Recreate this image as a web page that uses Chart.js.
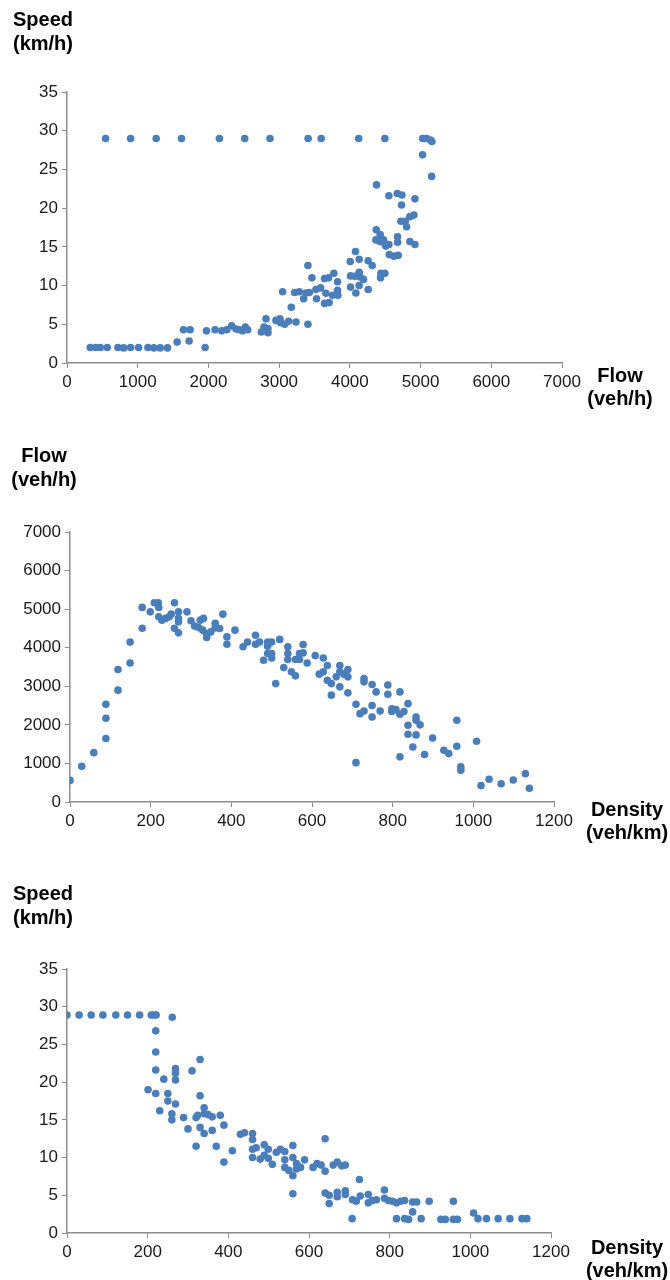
<!DOCTYPE html>
<html>
<head>
<meta charset="utf-8">
<script src="https://cdn.jsdelivr.net/npm/chart.js@4.4.1/dist/chart.umd.min.js"></script>
<style>
  body { margin: 0; background: #fff; }
  .wrap { position: absolute; left: 0; width: 670px; }
</style>
</head>
<body>
<div class="wrap" style="top:0px"><canvas id="speedFlow" width="670" height="437"></canvas></div>
<div class="wrap" style="top:437px"><canvas id="flowDensity" width="670" height="437"></canvas></div>
<div class="wrap" style="top:874px"><canvas id="speedDensity" width="670" height="406"></canvas></div>
<script>
// chart 1: speed vs flow
const sfFlow = [546, 899, 1261, 1619, 2155, 2513, 2871, 3410, 3595, 4125, 4495, 5030, 5085, 5140, 5160, 5028, 5156,
  329, 405, 471, 569, 720, 800, 899, 1012, 1144, 1228, 1318, 1421, 1953, 1558, 1647, 1741, 1727, 1972, 2094, 2188, 2259,
  2329, 2391, 2438, 2485, 2522, 2555, 2748, 2786, 2814, 2842, 2842, 2955, 3012, 3021, 3078, 3134, 3172, 3238, 3407,
  3049, 3219, 3285, 3346, 3379, 3407, 3426, 3464, 3520, 3529, 3586, 3642, 3642, 3661, 3699, 3708, 3755, 3774, 3826, 3830, 3826,
  4005, 4080, 4132, 4010, 4071, 4132, 4142, 4193, 4132, 4085, 4010, 4259, 4316, 4259, 4377, 4373, 4429, 4368, 4425, 4476,
  4495, 4552, 4509, 4439, 4495, 4434, 4552, 4670, 4736, 4731, 4557, 4623, 4684, 4675, 4675, 4722, 4783, 4849, 4906, 4802,
  4920, 4849, 4920];
const sfSpeed = [29, 29, 29, 29, 29, 29, 29, 29, 29, 29, 29, 29, 29, 28.8, 28.6, 26.9, 24.1,
  2, 2, 2, 2, 2, 1.95, 2, 2, 2, 1.95, 1.95, 1.95, 2, 2.7, 4.3, 4.3, 2.85, 4.15, 4.3, 4.15, 4.3,
  4.8, 4.4, 4.3, 4.15, 4.65, 4.3, 4.0, 4.65, 5.7, 3.9, 4.45, 5.5, 5.7, 5.2, 5.0, 5.4, 7.2, 5.3, 5.0,
  9.2, 9.1, 9.2, 8.3, 9.05, 12.6, 9.1, 11.0, 9.5, 8.3, 9.7, 10.9, 7.7, 9.0, 11.0, 7.8, 8.75, 11.6, 10.5, 8.75, 9.4,
  13.1, 14.4, 13.4, 11.25, 11.2, 11.7, 11.1, 10.8, 10.0, 9.05, 9.8, 13.2, 12.6, 9.5, 23.0, 17.2, 16.6, 15.9, 15.7, 15.9,
  15.4, 15.3, 15.1, 11.6, 11.6, 11.0, 21.6, 21.9, 21.7, 20.4, 14.0, 13.8, 13.9, 15.6, 16.3, 18.3, 18.3, 18.9, 19.1, 17.6,
  21.2, 15.7, 15.3];

// chart 2: flow vs density
const fdDensity = [0, 29, 59, 89, 89, 89, 119, 119, 149, 149, 179, 179, 199, 209, 219, 220, 220, 228, 237, 246, 251, 259,
  269, 269, 269, 259, 269, 290, 300, 309, 319, 323, 331, 329, 339, 339, 349, 360, 360, 371, 379, 389, 389, 409, 429, 440,
  460, 460, 470, 480, 490, 490, 500, 490, 500, 500, 510, 520, 530, 540, 540, 540, 549, 559, 559, 569, 569,
  578, 578, 588, 608, 628, 618, 628, 638, 638, 648, 648, 660, 669, 669, 669, 679, 689, 689, 689, 709, 709, 719, 729, 729,
  729, 749, 749, 749, 759, 769, 788, 788, 798, 798, 808, 818, 818, 818, 828, 838, 838, 838, 858, 858, 850, 858, 868, 879,
  899, 927, 939, 959, 959, 969, 969, 1008, 1019, 1039, 1069, 1099, 1129, 1139];
const fdFlow = [560, 925, 1280, 1645, 2170, 2535, 2900, 3435, 3605, 4145, 4505, 5045, 4930, 5165, 5165, 5045, 4800, 4715,
  4760, 4800, 4870, 5165, 4930, 4760, 4670, 4505, 4385, 4930, 4700, 4560, 4525, 4715, 4760, 4455, 4370, 4265, 4410, 4630,
  4515, 4500, 4870, 4280, 4090, 4455, 4025, 4145, 4325, 4090, 4150, 3675, 4150, 4040, 4150, 3850, 3850, 3735, 3070, 4215,
  3485, 4025, 3850, 3695, 3375, 3695, 3270, 3850, 3695,
  4085, 3865, 3605, 3795, 3735, 3315, 3375, 3540, 3155, 3070, 2770, 3245, 3540, 3375, 2985, 3315, 3435, 3245, 2830, 2535,
  1020, 2290, 3200, 3115, 2360, 3045, 2500, 2205, 2855, 2360, 3035, 2795, 2415, 2345, 2395, 2855, 2275, 1170, 2345, 2550,
  1990, 1755, 2205, 2120, 1425, 1740, 2000, 1230, 1660, 1340, 1255, 2120, 1445, 910, 820, 1575, 425, 590, 475, 570, 735, 355];

// chart 3: speed vs density
const sdDensity = [0, 30, 60, 89, 121, 150, 180, 209, 216, 221, 261, 220, 220, 220, 240, 269, 269, 269, 310, 330, 201, 220,
  250, 250, 269, 230, 260, 260, 289, 300, 320, 320, 330, 330, 340, 340, 324, 340, 350, 360, 360, 370, 380, 389, 389, 410,
  430, 440, 460, 460, 460, 460, 469, 479, 489, 489, 499, 499, 509, 519, 529, 540, 540, 540, 550, 560, 560, 560, 560, 569,
  569, 579, 589, 610, 620, 630, 640, 640, 640, 650, 650, 660, 670, 670, 670, 681, 690, 690, 690, 707, 708, 717, 725, 727,
  747, 747, 757, 767, 787, 787, 797, 807, 817, 817, 827, 837, 837, 847, 857, 857, 867, 878, 898, 927, 938, 958, 958, 968,
  1008, 1019, 1040, 1069, 1098, 1128, 1140];
const sdSpeed = [28.9, 28.9, 28.9, 28.9, 28.9, 28.9, 28.9, 28.9, 28.9, 28.9, 28.6, 26.8, 24.0, 21.6, 20.4, 21.8, 21.2, 20.3,
  21.5, 23.0, 19.0, 18.5, 18.5, 17.5, 17.1, 16.2, 15.8, 15.0, 15.3, 13.8, 15.3, 11.5, 18.2, 14.0, 16.6, 13.2, 15.6, 15.8,
  15.7, 15.4, 13.6, 11.5, 15.6, 14.3, 9.4, 10.9, 13.1, 13.3, 13.2, 12.4, 11.1, 10.0, 11.3, 9.8, 11.7, 10.3, 11.1, 9.9, 9.1,
  10.7, 11.1, 10.8, 9.7, 8.7, 8.3, 11.6, 10.0, 7.6, 5.2, 8.5, 9.2, 8.7, 9.7, 8.7, 9.2, 9.0, 8.2, 12.5, 5.3, 5.0, 3.9, 9.0,
  9.4, 5.4, 4.8, 8.9, 9.0, 5.6, 5.1, 1.9, 4.4, 4.2, 7.1, 4.9, 5.1, 4.0, 4.3, 4.4, 5.7, 4.6, 4.3, 4.2, 4.0, 1.9, 4.2, 4.3,
  1.9, 1.8, 4.1, 2.8, 4.1, 1.9, 4.2, 1.8, 1.8, 4.2, 1.8, 1.8, 2.65, 1.9, 1.9, 1.9, 1.9, 1.9, 1.9];

const dotColor = '#4a7ebb';
const axisGrey = '#8c8c8c';
const tickFont = { family: '"Liberation Sans", Arial, sans-serif', size: 17 };

// draws the horizontal axis names (y name above the axis, x name right of it)
const axisNames = {
  id: 'axisNames',
  afterDraw(chart, args, opts) {
    const ctx = chart.ctx;
    ctx.save();
    ctx.font = 'bold 20px "Liberation Sans", Arial, sans-serif';
    ctx.fillStyle = '#000';
    ctx.textAlign = 'center';
    ctx.textBaseline = 'middle';
    opts.yName.forEach((t, i) => ctx.fillText(t, opts.yAt[0], opts.yAt[1] + i * 24));
    opts.xName.forEach((t, i) => ctx.fillText(t, opts.xAt[0], opts.xAt[1] + i * 23));
    ctx.restore();
  }
};

function makeChart(id, xs, ys, xMax, xStep, yMax, yStep, area, names) {
  const el = document.getElementById(id);
  const pts = xs.map((x, i) => ({ x: x, y: ys[i] }));
  const axis = (max, step) => ({
    type: 'linear',
    min: 0,
    max: max,
    ticks: { stepSize: step, color: '#1a1a1a', font: tickFont, padding: 4, callback: v => String(v) },
    grid: { drawOnChartArea: false, drawTicks: true, tickLength: 5, color: axisGrey, lineWidth: 1 },
    border: { display: true, color: axisGrey, width: 1.5 }
  });
  const xAxis = axis(xMax, xStep);
  xAxis.afterFit = s => { s.height = 30; };
  const yAxis = axis(yMax, yStep);
  yAxis.afterFit = s => { s.width = area.left; };
  return new Chart(el, {
    type: 'scatter',
    data: {
      datasets: [{
        data: pts,
        backgroundColor: dotColor,
        borderColor: dotColor,
        borderWidth: 0,
        pointRadius: 3.8
      }]
    },
    options: {
      responsive: false,
      animation: false,
      layout: {
        padding: { left: 0, top: area.top, right: el.width - area.right, bottom: el.height - area.bottom - 30 }
      },
      scales: { x: xAxis, y: yAxis },
      plugins: {
        legend: { display: false },
        tooltip: { enabled: false },
        axisNames: names
      }
    },
    plugins: [axisNames]
  });
}

makeChart('speedFlow', sfFlow, sfSpeed, 7000, 1000, 35, 5,
  { left: 67, right: 562, top: 92, bottom: 363 },
  { yName: ['Speed', '(km/h)'], yAt: [43, 20], xName: ['Flow', '(veh/h)'], xAt: [620, 376] });

makeChart('flowDensity', fdDensity, fdFlow, 1200, 200, 7000, 1000,
  { left: 70, right: 554, top: 95, bottom: 365 },
  { yName: ['Flow', '(veh/h)'], yAt: [44, 19], xName: ['Density', '(veh/km)'], xAt: [627, 373] });

makeChart('speedDensity', sdDensity, sdSpeed, 1200, 200, 35, 5,
  { left: 67, right: 551, top: 95, bottom: 359 },
  { yName: ['Speed', '(km/h)'], yAt: [43, 20], xName: ['Density', '(veh/km)'], xAt: [627, 374] });
</script>
</body>
</html>
